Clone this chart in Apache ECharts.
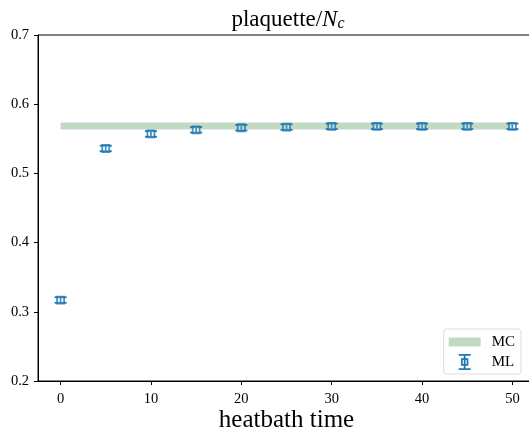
<!DOCTYPE html>
<html><head><meta charset="utf-8">
<script src="https://cdn.jsdelivr.net/npm/echarts@6/dist/echarts.min.js"></script>
<style>html,body{margin:0;padding:0;background:#fff}#c{width:529px;height:433px}</style>
</head><body><div id="c"></div>
<script>
const times = [0, 5, 10, 15, 20, 25, 30, 35, 40, 45, 50];
const mlValues = [0.317, 0.536, 0.557, 0.563, 0.566, 0.567, 0.568, 0.568, 0.568, 0.568, 0.568];
const mlErrors = [0.004, 0.004, 0.004, 0.004, 0.004, 0.004, 0.004, 0.004, 0.004, 0.004, 0.004];
const mcBand = { xFrom: 0, xTo: 50, lo: 0.5635, hi: 0.5735 };
const xTicks = [0, 10, 20, 30, 40, 50];

const blue = '#1f77b4';
const green = 'rgba(143,188,143,0.55)';
const font = 'Liberation Serif';

const errData = times.map((t, i) => [t, mlValues[i] - mlErrors[i], mlValues[i] + mlErrors[i]]);
const ptData = times.map((t, i) => [t, mlValues[i]]);

const mcIcon = 'path://M0,0h0.01v0.01h-0.01zM0,3.5h32v9h-32zM31.99,15.99h0.01v0.01h-0.01z';
const mlIcon = 'path://M0,0h12v1.8h-12zM5.1,0h1.8v16h-1.8zM0,14.2h12v1.8h-12zM2.3,4.3h7.4v7.4h-7.4zM4,6v4h4v-4z';

const chart = echarts.init(document.getElementById('c'));
chart.setOption({
  animation: false,
  title: {
    text: '{a|plaquette/}{i|N}{s|c}',
    left: 283, top: 2, textAlign: 'center',
    textStyle: {
      fontWeight: 'normal',
      rich: {
        a: { fontFamily: font, fontSize: 23, fontWeight: 'normal', color: '#000' },
        i: { fontFamily: font, fontSize: 23, fontWeight: 'normal', fontStyle: 'italic', color: '#000' },
        s: { fontFamily: font, fontSize: 16, fontWeight: 'normal', fontStyle: 'italic', color: '#000', padding: [9, 0, 0, 0] }
      }
    }
  },
  grid: { left: 38, top: 35, bottom: 52, right: -6, show: true, borderColor: '#000', borderWidth: 1, outerBoundsMode: 'none', containLabel: false },
  legend: {
    right: 8, bottom: 59, orient: 'vertical', align: 'left',
    itemWidth: 32, itemHeight: 16, itemGap: 4,
    padding: [5, 6, 4, 5],
    borderColor: '#ddd', borderWidth: 1, borderRadius: 3, backgroundColor: '#fff',
    textStyle: { fontFamily: font, fontSize: 15, color: '#000', padding: [0, 0, 0, 6] },
    data: [
      { name: 'MC', icon: mcIcon, itemStyle: { color: green } },
      { name: 'ML', icon: mlIcon, itemStyle: { color: blue } }
    ]
  },
  xAxis: {
    type: 'value', min: -2.5, max: 52.5, interval: 10,
    name: 'heatbath time', nameLocation: 'middle', nameGap: 27, nameMoveOverlap: false,
    nameTextStyle: { fontFamily: font, fontSize: 25, color: '#000' },
    axisLine: { onZero: false, lineStyle: { color: '#000', width: 1 } },
    axisTick: { show: true, length: 4, lineStyle: { color: '#000' }, customValues: xTicks },
    axisLabel: { fontFamily: font, fontSize: 14.5, color: '#000', margin: 11, customValues: xTicks },
    splitLine: { show: false }
  },
  yAxis: {
    type: 'value', min: 0.2, max: 0.7, interval: 0.1,
    axisLine: { show: true, onZero: false, lineStyle: { color: '#000', width: 1 } },
    axisTick: { show: true, length: 4, lineStyle: { color: '#000' } },
    axisLabel: { fontFamily: font, fontSize: 14.5, color: '#000', margin: 9, formatter: v => v.toFixed(1) },
    splitLine: { show: false }
  },
  series: [
    {
      name: 'MC', type: 'line', data: [], itemStyle: { color: green },
      markArea: {
        silent: true,
        itemStyle: { color: green },
        data: [[{ coord: [mcBand.xFrom, mcBand.lo] }, { coord: [mcBand.xTo, mcBand.hi] }]]
      }
    },
    {
      name: 'ML', type: 'custom', data: errData, z: 3,
      itemStyle: { color: blue },
      renderItem: function (params, api) {
        const x = api.value(0);
        const a = api.coord([x, api.value(1)]);
        const b = api.coord([x, api.value(2)]);
        const w = 6;
        const st = { stroke: blue, lineWidth: 1.8 };
        return {
          type: 'group', children: [
            { type: 'line', shape: { x1: a[0], y1: a[1], x2: b[0], y2: b[1] }, style: st },
            { type: 'line', shape: { x1: a[0] - w, y1: a[1], x2: a[0] + w, y2: a[1] }, style: st },
            { type: 'line', shape: { x1: b[0] - w, y1: b[1], x2: b[0] + w, y2: b[1] }, style: st }
          ]
        };
      }
    },
    {
      name: 'ML', type: 'scatter', data: ptData, symbol: 'rect', symbolSize: 7, z: 4,
      itemStyle: { color: 'rgba(255,255,255,0.25)', borderColor: blue, borderWidth: 1.8 }
    }
  ]
});
</script></body></html>
